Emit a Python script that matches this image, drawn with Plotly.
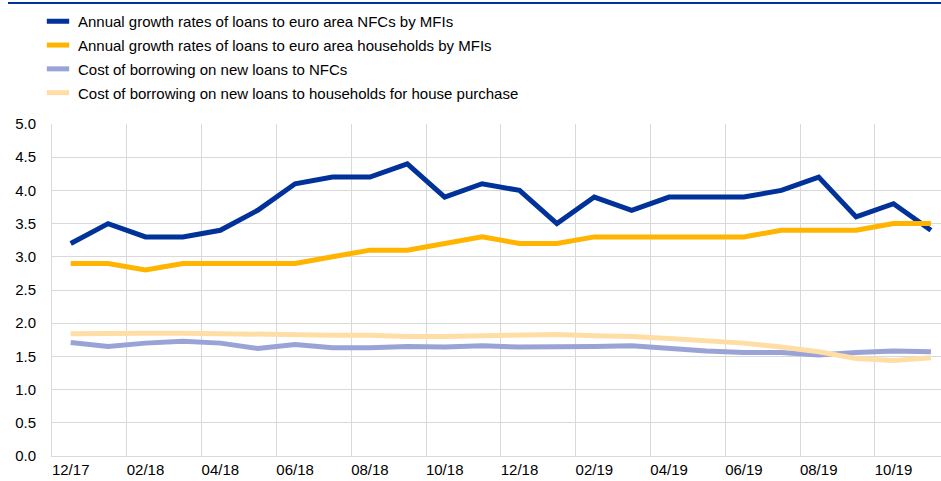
import plotly.graph_objects as go

months = ["12/17", "01/18", "02/18", "03/18", "04/18", "05/18", "06/18", "07/18",
          "08/18", "09/18", "10/18", "11/18", "12/18", "01/19", "02/19", "03/19",
          "04/19", "05/19", "06/19", "07/19", "08/19", "09/19", "10/19", "11/19"]

loans_nfc = [3.2, 3.5, 3.3, 3.3, 3.4, 3.7, 4.1, 4.2, 4.2, 4.4, 3.9, 4.1,
             4.0, 3.5, 3.9, 3.7, 3.9, 3.9, 3.9, 4.0, 4.2, 3.6, 3.8, 3.4]
loans_hh = [2.9, 2.9, 2.8, 2.9, 2.9, 2.9, 2.9, 3.0, 3.1, 3.1, 3.2, 3.3,
            3.2, 3.2, 3.3, 3.3, 3.3, 3.3, 3.3, 3.4, 3.4, 3.4, 3.5, 3.5]
cost_nfc = [1.71, 1.65, 1.70, 1.73, 1.70, 1.62, 1.68, 1.63, 1.63, 1.65, 1.64, 1.66,
            1.64, 1.64, 1.65, 1.66, 1.62, 1.58, 1.56, 1.56, 1.52, 1.56, 1.58, 1.57]
cost_hh = [1.84, 1.85, 1.85, 1.85, 1.84, 1.84, 1.83, 1.82, 1.82, 1.80, 1.80, 1.81,
           1.81, 1.83, 1.81, 1.80, 1.77, 1.74, 1.70, 1.64, 1.57, 1.47, 1.44, 1.48]

names = ["Annual growth rates of loans to euro area NFCs by MFIs",
         "Annual growth rates of loans to euro area households by MFIs",
         "Cost of borrowing on new loans to NFCs",
         "Cost of borrowing on new loans to households for house purchase"]
colors = ["#003299", "#FFB400", "#99A3D6", "#FFDEA6"]
series = [loans_nfc, loans_hh, cost_nfc, cost_hh]

fig = go.Figure()
for name, col, vals in zip(names, colors, series):
    fig.add_trace(go.Scatter(x=months, y=vals, mode="lines", name=name,
                             line=dict(color=col, width=5), showlegend=False))
# legend entries (short rectangular keys)
for i, (name, col) in enumerate(zip(names, colors)):
    fig.add_trace(go.Scatter(x=[None], y=[None], mode="markers", name=name,
                             legendgroup=f"g{i}",
                             marker=dict(symbol="line-ew", size=16, color=col,
                                         line=dict(color=col, width=6))))

W, H = 941, 481
L, R, T, B = 52, 0, 124, 25
pw = W - L - R
ph = H - T - B

fig.update_layout(
    width=W, height=H,
    margin=dict(l=L, r=R, t=T, b=B, autoexpand=False),
    paper_bgcolor="white", plot_bgcolor="white",
    font=dict(family="Arial, Liberation Sans, sans-serif", size=15, color="#000000"),
    legend=dict(x=(38 - L) / pw, xanchor="left", y=1 + (T - 5) / ph, yanchor="top",
                font=dict(size=15), tracegroupgap=1.3, traceorder="grouped",
                bgcolor="rgba(0,0,0,0)", itemwidth=30),
    xaxis=dict(type="category", range=[-0.5, 23.27], tickmode="linear", tick0=0, dtick=2,
               tickson="boundaries", showgrid=True, gridcolor="#d9d9d9", gridwidth=1,
               showline=True, linecolor="#d9d9d9", linewidth=1, ticks="",
               tickangle=0, automargin=False,
               tickfont=dict(size=15), fixedrange=True),
    yaxis=dict(range=[0, 5], tickmode="linear", tick0=0, dtick=0.5, tickformat=".1f",
               showgrid=True, gridcolor="#d9d9d9", gridwidth=1, zeroline=False,
               showline=True, linecolor="#d9d9d9", linewidth=1, ticks="",
               automargin=False,
               ticklabelstandoff=12, tickfont=dict(size=15), fixedrange=True),
    shapes=[dict(type="line", xref="paper", yref="paper",
                 x0=(8 - L) / pw, x1=1, y0=1 + (T - 3) / ph, y1=1 + (T - 3) / ph,
                 line=dict(color="#003299", width=2))],
)

fig.write_html("out.html", config={"displayModeBar": False},
               post_script="document.body.style.margin='0';document.body.style.overflow='hidden';")
